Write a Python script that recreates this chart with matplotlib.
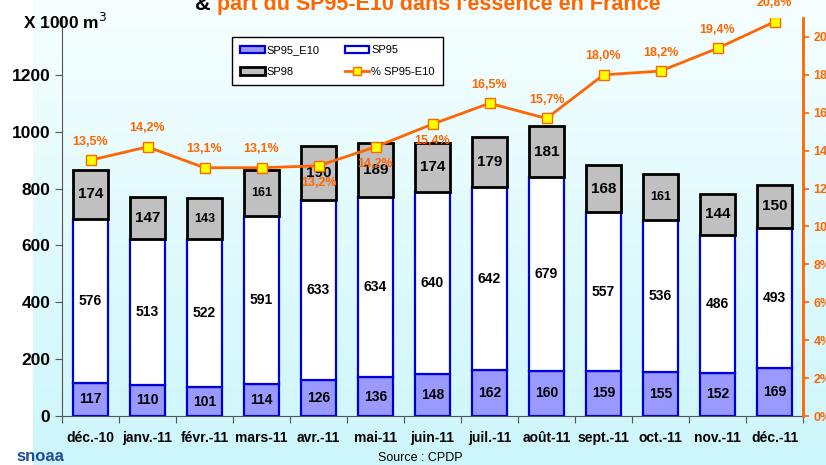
import matplotlib
matplotlib.use("Agg")
import matplotlib.pyplot as plt
import numpy as np
from matplotlib.lines import Line2D
from matplotlib.patches import Patch

plt.rcParams['font.family'] = ['Liberation Sans', 'DejaVu Sans']

months = ["déc.-10", "janv.-11", "févr.-11", "mars-11", "avr.-11", "mai-11", "juin-11",
          "juil.-11", "août-11", "sept.-11", "oct.-11", "nov.-11", "déc.-11"]
sp95_e10 = [117, 110, 101, 114, 126, 136, 148, 162, 160, 159, 155, 152, 169]
sp95 = [576, 513, 522, 591, 633, 634, 640, 642, 679, 557, 536, 486, 493]
sp98 = [174, 147, 143, 161, 190, 189, 174, 179, 181, 168, 161, 144, 150]
pct_e10 = [13.5, 14.2, 13.1, 13.1, 13.2, 14.2, 15.4, 16.5, 15.7, 18.0, 18.2, 19.4, 20.8]
pct_below = [False, False, False, False, True, True, True, False, False, False, False, False, False]

ORANGE = '#ff6600'
W, H = 826, 465
fig = plt.figure(figsize=(W / 100, H / 100), dpi=100)
fig.patch.set_facecolor('white')

# background gradient
bg = fig.add_axes([33 / W, 0, 1 - 33 / W, 1], zorder=-10)
grad = np.linspace(0, 1, 256).reshape(-1, 1)
c_top = np.array([0.965, 0.998, 1.0])
c_bot = np.array([0.80, 0.965, 0.985])
img = c_top + (c_bot - c_top) * grad[:, :, None] * np.ones((1, 2, 1))
bg.imshow(img, aspect='auto', extent=[0, 1, 0, 1], origin='upper')
bg.axis('off')

ax = fig.add_axes([62 / W, (H - 416) / H, (803 - 62) / W, (416 - 18) / H])
ax.set_facecolor('none')
x = np.arange(len(months))
bw = 0.6
e10 = np.array(sp95_e10); s95 = np.array(sp95); s98 = np.array(sp98)
ax.bar(x, e10, bw, color='#9999ff', edgecolor='#0000cc', linewidth=1.6, zorder=2)
ax.bar(x, s95, bw, bottom=e10, color='white', edgecolor='#0000dd', linewidth=1.6, zorder=2)
ax.bar(x, s98, bw, bottom=e10 + s95, color='#c0c0c0', edgecolor='black', linewidth=2.0, zorder=2)

for i in range(len(x)):
    ax.text(x[i], e10[i] / 2, str(e10[i]), ha='center', va='center', fontsize=10, fontweight='bold', zorder=5)
    ax.text(x[i], e10[i] + s95[i] / 2, str(s95[i]), ha='center', va='center', fontsize=10, fontweight='bold', zorder=5)
    fs = 9 if s98[i] in (143, 161) else 11
    ax.text(x[i], e10[i] + s95[i] + s98[i] / 2, str(s98[i]), ha='center', va='center', fontsize=fs, fontweight='bold', zorder=5)

ax.set_xlim(-0.5, len(x) - 0.5)
ax.set_ylim(0, 1400)
ax.set_yticks(range(0, 1201, 200))
ax.tick_params(axis='y', labelsize=12.5, direction='out', length=5, width=0.8, color='#555555')
for lab in ax.get_yticklabels():
    lab.set_fontweight('bold')
ax.set_xticks(x)
ax.set_xticklabels(months, fontsize=10, fontweight='bold')
ax.tick_params(axis='x', length=0, pad=11)
ax.set_xticks(np.arange(-0.5, len(x), 1), minor=True)
ax.tick_params(axis='x', which='minor', direction='out', length=5, width=0.8, color='#555555')
for s in ['top', 'right']:
    ax.spines[s].set_visible(False)
ax.spines['left'].set_color('#555555')
ax.spines['bottom'].set_color('#555555')

ax2 = ax.twinx()
ax2.set_ylim(0, 21)
ax2.set_yticks(range(0, 21, 2))
ax2.set_yticklabels([f"{v}%" for v in range(0, 21, 2)])
ax2.tick_params(axis='y', colors=ORANGE, labelsize=9, length=4, width=1.2)
for lab in ax2.get_yticklabels():
    lab.set_fontweight('bold')
for s in ['top', 'left', 'bottom']:
    ax2.spines[s].set_visible(False)
ax2.spines['right'].set_color(ORANGE)
ax2.spines['right'].set_linewidth(2)
ax2.plot(x, pct_e10, color=ORANGE, linewidth=2, marker='s', markersize=7,
         markerfacecolor='#ffff00', markeredgecolor=ORANGE, markeredgewidth=1, zorder=4)
for i, v in enumerate(pct_e10):
    lbl = f"{v:.1f}%".replace('.', ',')
    if pct_below[i]:
        ax2.annotate(lbl, (x[i], v), xytext=(0, -8), textcoords='offset points', ha='center', va='top',
                     color=ORANGE, fontsize=9, fontweight='bold', zorder=6)
    else:
        ax2.annotate(lbl, (x[i], v), xytext=(0, 9), textcoords='offset points', ha='center', va='bottom',
                     color=ORANGE, fontsize=9, fontweight='bold', zorder=6)

# legend
handles = [Patch(facecolor='#9999ff', edgecolor='#0000cc', linewidth=1.6, label='SP95_E10'),
           Patch(facecolor='#c0c0c0', edgecolor='black', linewidth=2, label='SP98'),
           Patch(facecolor='white', edgecolor='#0000dd', linewidth=1.6, label='SP95'),
           Line2D([0], [0], color=ORANGE, lw=2, marker='s', markersize=6, markerfacecolor='#ffff00',
                  markeredgecolor=ORANGE, label='% SP95-E10')]
leg = fig.legend(handles=handles, ncol=2, loc='upper left', bbox_to_anchor=(232 / W, 1 - 37 / H),
                 frameon=True, fancybox=False, fontsize=8, edgecolor='black', framealpha=1,
                 handlelength=2.2, handleheight=0.7, handletextpad=0.15, columnspacing=2.3,
                 borderpad=0.75, labelspacing=1.05, borderaxespad=0)
leg.get_frame().set_linewidth(1)

fig.text(23 / W, 1 - 22 / H, "X 1000 m$^3$", fontsize=12.5, fontweight='bold', ha='left', va='center')

# clipped title
fig.text(217 / W, 1 - 10 / H, "& ", fontsize=15.5, fontweight='bold', ha='right', va='baseline', color='black')
fig.text(217 / W, 1 - 10 / H, "part du SP95-E10 dans l'essence en France", fontsize=15.5, fontweight='bold',
         ha='left', va='baseline', color=ORANGE)

fig.text(420 / W, 1 - 458 / H, "Source : CPDP", fontsize=9, ha='center', va='center')
fig.text(40 / W, 1 - 456 / H, "snoaa", fontsize=12, fontweight='bold', ha='center', va='center', color='#1f4e9a')

fig.savefig('out.png', dpi=100)
